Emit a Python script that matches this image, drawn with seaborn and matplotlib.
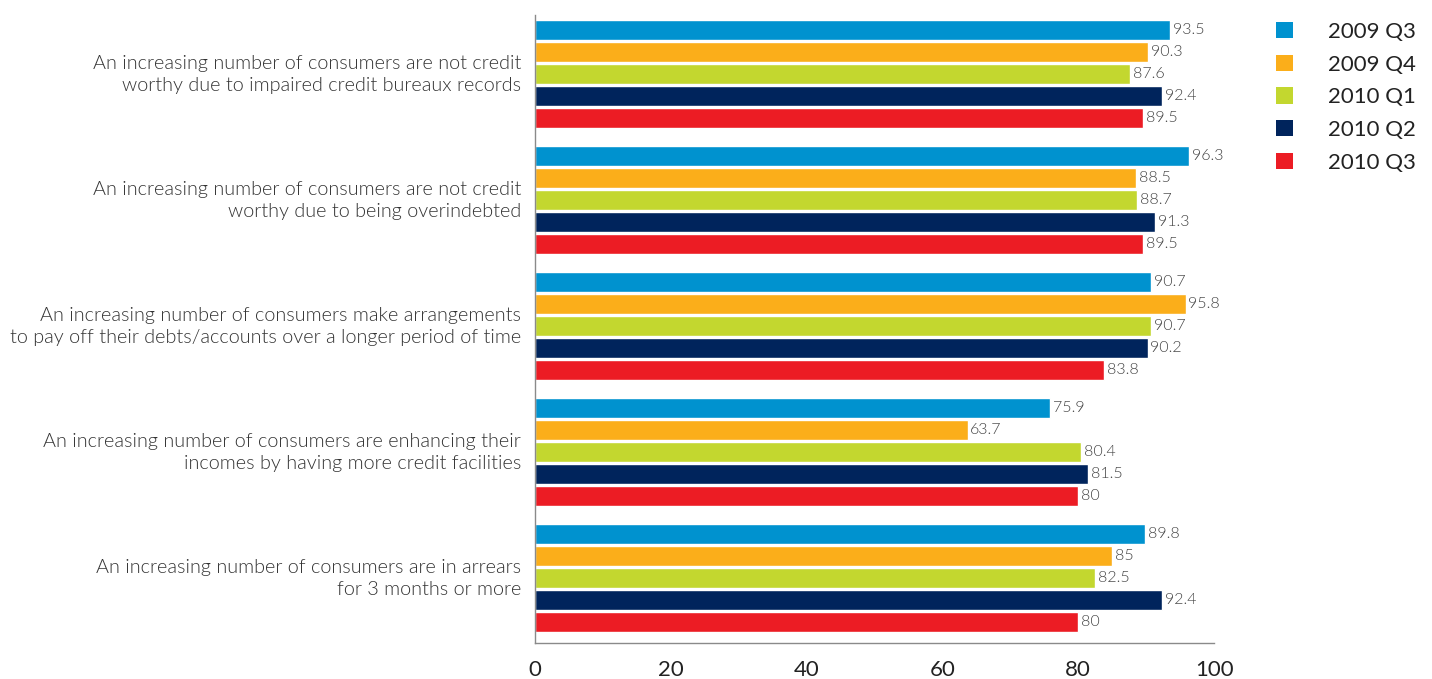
import numpy as np
import pandas as pd
import matplotlib
matplotlib.use("Agg")
import matplotlib.pyplot as plt
import matplotlib.transforms as mtransforms
from matplotlib.patches import Patch
import seaborn as sns

categories = [
    "An increasing number of consumers are not credit\nworthy due to impaired credit bureaux records",
    "An increasing number of consumers are not credit\nworthy due to being overindebted",
    "An increasing number of consumers make arrangements\nto pay off their debts/accounts over a longer period of time",
    "An increasing number of consumers are enhancing their\nincomes by having more credit facilities",
    "An increasing number of consumers are in arrears\nfor 3 months or more",
]
quarters = ["2009 Q3", "2009 Q4", "2010 Q1", "2010 Q2", "2010 Q3"]

q2009_3 = [93.5, 96.3, 90.7, 75.9, 89.8]
q2009_4 = [90.3, 88.5, 95.8, 63.7, 85]
q2010_1 = [87.6, 88.7, 90.7, 80.4, 82.5]
q2010_2 = [92.4, 91.3, 90.2, 81.5, 92.4]
q2010_3 = [89.5, 89.5, 83.8, 80, 80]

colors = ["#0092CF", "#FBAE1A", "#C3D72F", "#00245C", "#EC1C24"]

series = [q2009_3, q2009_4, q2010_1, q2010_2, q2010_3]
df = pd.DataFrame(
    [(c, q, s[i]) for q, s in zip(quarters, series) for i, c in enumerate(categories)],
    columns=["statement", "quarter", "value"],
)

sns.set_theme(style="white")
plt.rcParams["font.family"] = ["Lato", "DejaVu Sans"]

fig = plt.figure(figsize=(14.32, 6.79), dpi=100)
ax = fig.add_axes([0.3736, 0.053, 0.4742, 0.925])

sns.barplot(
    data=df, y="statement", x="value", hue="quarter",
    order=categories, hue_order=quarters, palette=colors,
    orient="h", width=0.875, gap=0.09, saturation=1, legend=False, ax=ax,
)

for cont in ax.containers:
    vals = cont.datavalues
    ax.bar_label(cont, labels=[f"{v:g}" for v in vals], padding=2,
                 fontsize=11.5, color="#444444", fontweight=300)

ax.set_xlim(0, 100)
ax.set_ylim(4.516, -0.468)
ax.set_xticks([0, 20, 40, 60, 80, 100])
ax.tick_params(axis="x", direction="out", length=10, width=1, color="#8a8a8a",
               labelsize=16, labelcolor="#222222", pad=2)
ax.tick_params(axis="y", length=0, pad=10, labelsize=14.3, labelcolor="#333333")
lift = mtransforms.ScaledTranslation(0, 3 / 100, fig.dpi_scale_trans)
for lbl in ax.get_yticklabels():
    lbl.set_fontweight(300)
    lbl.set_linespacing(1.3)
    lbl.set_transform(lbl.get_transform() + lift)
ax.set_xlabel("")
ax.set_ylabel("")

for side in ["top", "right"]:
    ax.spines[side].set_visible(False)
for side in ["left", "bottom"]:
    ax.spines[side].set_color("#8a8a8a")
    ax.spines[side].set_linewidth(1)

handles = [Patch(facecolor=c, edgecolor="none") for c in colors]
fig.legend(handles, quarters, loc="upper left", bbox_to_anchor=(0.877, 0.997),
           frameon=False, fontsize=16, handlelength=0.75, handleheight=0.75,
           handletextpad=1.6, labelspacing=0.57, labelcolor="#222222")

fig.savefig("out.png", dpi=100)
